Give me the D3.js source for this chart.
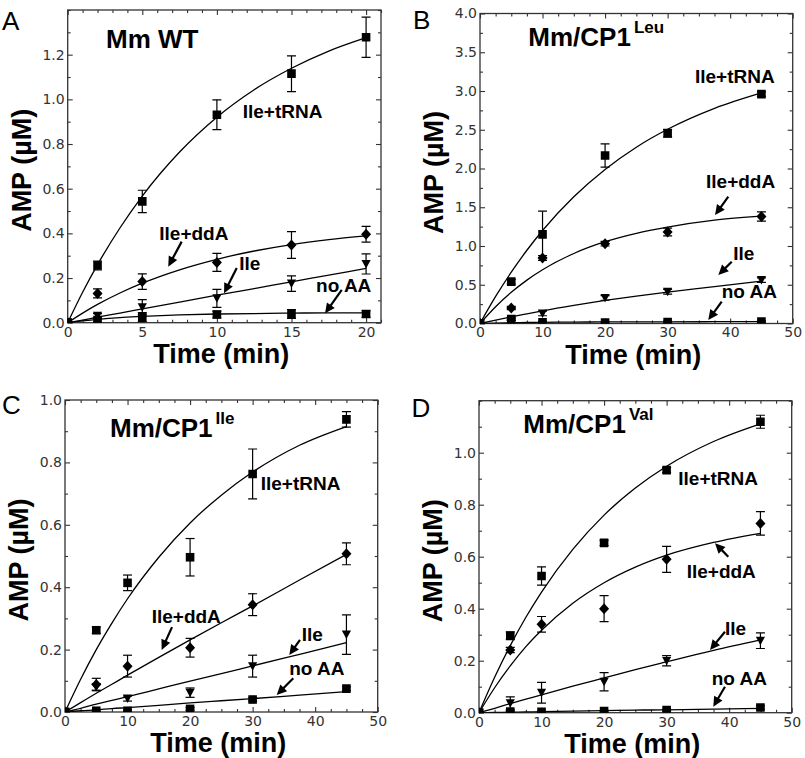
<!DOCTYPE html>
<html lang="en">
<head>
<meta charset="UTF-8">
<title>AMP formation time courses</title>
<script src="https://d3js.org/d3.v7.min.js"></script>
<style>
  body { margin: 0; background: #fff; }
  .tick text { font-family: "DejaVu Sans", sans-serif; font-size: 14px; fill: #333; }
  .bold { font-family: "Liberation Sans", Arial, sans-serif; font-weight: bold; fill: #000; }
  .letter { font-family: "Liberation Sans", Arial, sans-serif; font-size: 26px; fill: #000; }
</style>
</head>
<body>
<svg id="main" width="805" height="758"></svg>
<script>
// ---- data ----
const seriesNames = ["Ile+tRNA", "Ile+ddA", "Ile", "no AA"];
const timesWT = [0, 2, 5, 10, 15, 20];
const timesCP = [0, 5, 10, 20, 30, 45];
// knots of the fitted curves
const fitTimesWT = [0, 1, 2, 3.5, 5, 7.5, 10, 12.5, 15, 17.5, 20];
const fitTimesCP = [0, 2.5, 5, 7.5, 10, 15, 20, 25, 30, 37.5, 45];

// A: Mm WT
const wtTrna = [0, 0.256, 0.543, 0.931, 1.115, 1.278];
const wtTrnaErr = [0, 0.02, 0.05, 0.067, 0.08, 0.09];
const wtDda = [0, 0.131, 0.184, 0.27, 0.348, 0.396];
const wtDdaErr = [0, 0.02, 0.035, 0.04, 0.06, 0.035];
const wtIle = [0, 0.031, 0.069, 0.109, 0.175, 0.263];
const wtIleErr = [0, 0.01, 0.034, 0.04, 0.035, 0.045];
const wtNoAA = [0, 0.012, 0.025, 0.037, 0.039, 0.039];
const wtNoAAErr = [0, 0.008, 0.02, 0.015, 0.02, 0.015];
const wtTrnaFit = [0, 0.136, 0.26, 0.424, 0.567, 0.764, 0.92, 1.043, 1.139, 1.216, 1.276];
const wtDdaFit = [0, 0.043, 0.082, 0.133, 0.177, 0.237, 0.284, 0.321, 0.35, 0.372, 0.389];
const wtIleFit = [0, 0.012, 0.025, 0.043, 0.062, 0.092, 0.123, 0.153, 0.183, 0.213, 0.243];
const wtNoAAFit = [0, 0.008, 0.015, 0.023, 0.028, 0.035, 0.039, 0.041, 0.043, 0.044, 0.044];

// B: Mm/CP1 Leu
const leuTrna = [0, 0.54, 1.15, 2.167, 2.455, 2.96];
const leuTrnaErr = [0, 0.03, 0.3, 0.15, 0.05, 0.03];
const leuDda = [0, 0.2, 0.845, 1.03, 1.18, 1.38];
const leuDdaErr = [0, 0.02, 0.03, 0.03, 0.05, 0.06];
const leuIle = [0, 0.06, 0.13, 0.33, 0.41, 0.56];
const leuIleErr = [0, 0.02, 0.03, 0.03, 0.03, 0.03];
const leuNoAA = [0, 0.05, 0.017, 0.012, 0.02, 0.025];
const leuNoAAErr = [0, 0.01, 0.01, 0.01, 0.01, 0.01];
const leuTrnaFit = [0, 0.349, 0.662, 0.945, 1.2, 1.635, 1.988, 2.275, 2.506, 2.776, 2.975];
const leuDdaFit = [0, 0.217, 0.402, 0.56, 0.693, 0.903, 1.055, 1.164, 1.244, 1.333, 1.385];
const leuIleFit = [0, 0.044, 0.086, 0.125, 0.163, 0.233, 0.297, 0.354, 0.406, 0.475, 0.548];
const leuNoAAFit = [0, 0.006, 0.01, 0.013, 0.015, 0.018, 0.02, 0.021, 0.022, 0.023, 0.024];

// C: Mm/CP1 Ile
const ileTrna = [0, 0.262, 0.414, 0.496, 0.763, 0.938];
const ileTrnaErr = [0, 0.01, 0.025, 0.06, 0.08, 0.025];
const ileDda = [0, 0.088, 0.147, 0.206, 0.344, 0.507];
const ileDdaErr = [0, 0.02, 0.035, 0.03, 0.035, 0.035];
const ileIle = [0, 0.08, 0.043, 0.062, 0.147, 0.248];
const ileIleErr = [0, 0.01, 0.008, 0.015, 0.035, 0.063];
const ileNoAA = [0, 0.004, 0.004, 0.01, 0.04, 0.075];
const ileNoAAErr = [0, 0.003, 0.003, 0.004, 0.005, 0.006];
const ileTrnaFit = [0, 0.105, 0.2, 0.285, 0.363, 0.496, 0.606, 0.695, 0.769, 0.855, 0.915];
const ileDdaFit = [0, 0.03, 0.06, 0.089, 0.118, 0.175, 0.231, 0.286, 0.34, 0.423, 0.505];
const ileIleFit = [0, 0.012, 0.025, 0.037, 0.049, 0.074, 0.099, 0.123, 0.148, 0.185, 0.222];
const ileNoAAFit = [0, 0.004, 0.007, 0.011, 0.014, 0.021, 0.029, 0.036, 0.043, 0.054, 0.065];

// D: Mm/CP1 Val
const valTrna = [0, 0.296, 0.526, 0.653, 0.933, 1.119];
const valTrnaErr = [0, 0.015, 0.035, 0.01, 0.01, 0.025];
const valDda = [0, 0.241, 0.34, 0.4, 0.59, 0.728];
const valDdaErr = [0, 0.01, 0.03, 0.05, 0.05, 0.045];
const valIle = [0, 0.036, 0.077, 0.119, 0.2, 0.277];
const valIleErr = [0, 0.025, 0.04, 0.035, 0.02, 0.03];
const valNoAA = [0, 0.004, 0.003, 0.006, 0.01, 0.02];
const valNoAAErr = [0, 0.003, 0.003, 0.003, 0.004, 0.006];
const valTrnaFit = [0, 0.136, 0.258, 0.367, 0.464, 0.628, 0.76, 0.864, 0.948, 1.043, 1.111];
const valDdaFit = [0, 0.096, 0.18, 0.254, 0.317, 0.421, 0.5, 0.56, 0.606, 0.655, 0.69];
const valIleFit = [0, 0.017, 0.035, 0.052, 0.069, 0.102, 0.134, 0.166, 0.196, 0.24, 0.28];
const valNoAAFit = [0, 0.001, 0.002, 0.003, 0.004, 0.006, 0.008, 0.01, 0.011, 0.014, 0.017];

// tick labels
const xTicksWT = [0, 5, 10, 15, 20];
const xTicksCP = [0, 10, 20, 30, 40, 50];
const yTicksWT = [0, 0.2, 0.4, 0.6, 0.8, 1.0, 1.2];
const yTicksLeu = [0, 0.5, 1.0, 1.5, 2.0, 2.5, 3.0, 3.5, 4.0];
const yTicksIle = [0, 0.2, 0.4, 0.6, 0.8, 1.0];
const yTicksVal = [0, 0.2, 0.4, 0.6, 0.8, 1.0];

// ---- layout ----
const markerShapes = ["square", "diamond", "triangle", "square"];

const panels = [
  { letter: "A", lx: 2, ly: 30, left: 67.7, top: 10, width: 313.3, height: 312.7,
    xMax: 21, yMax: 1.4, xMinor: 1, yMinor: 0.1, xTicks: xTicksWT, yTicks: yTicksWT,
    title: "Mm WT", sup: "", tx: 38.3, ty: 38,
    times: timesWT, fitTimes: fitTimesWT,
    values: [wtTrna, wtDda, wtIle, wtNoAA], errors: [wtTrnaErr, wtDdaErr, wtIleErr, wtNoAAErr],
    fits: [wtTrnaFit, wtDdaFit, wtIleFit, wtNoAAFit],
    labels: [[11.73, 0.918], [6.14, 0.371], [11.5, 0.236], [16.65, 0.139]],
    arrows: [null, [7.64, 0.363, 6.74, 0.251], [11.33, 0.245, 10.48, 0.132], [18.37, 0.147, 17.25, 0.042]] },
  { letter: "B", lx: 413, ly: 28.5, left: 480, top: 13.5, width: 312.7, height: 310,
    xMax: 50, yMax: 4, xMinor: 2.5, yMinor: 0.25, xTicks: xTicksCP, yTicks: yTicksLeu,
    title: "Mm/CP1", sup: "Leu", tx: 48.3, ty: 32.5,
    times: timesCP, fitTimes: fitTimesCP,
    values: [leuTrna, leuDda, leuIle, leuNoAA], errors: [leuTrnaErr, leuDdaErr, leuIleErr, leuNoAAErr],
    fits: [leuTrnaFit, leuDdaFit, leuIleFit, leuNoAAFit],
    labels: [[34.38, 3.107], [36.14, 1.745], [40.5, 0.819], [38.65, 0.325]],
    arrows: [null, [39.7, 1.636, 37.58, 1.4], [40.25, 0.797, 38.11, 0.626], [38.65, 0.281, 36.5, 0.045]] },
  { letter: "C", lx: 2, ly: 413.5, left: 65, top: 400, width: 312.7, height: 312,
    xMax: 50, yMax: 1, xMinor: 2.5, yMinor: 0.1, xTicks: xTicksCP, yTicks: yTicksIle,
    title: "Mm/CP1", sup: "Ile", tx: 45, ty: 36.7,
    times: timesCP, fitTimes: fitTimesCP,
    values: [ileTrna, ileDda, ileIle, ileNoAA], errors: [ileTrnaErr, ileDdaErr, ileIleErr, ileNoAAErr],
    fits: [ileTrnaFit, ileDdaFit, ileIleFit, ileNoAAFit],
    labels: [[31.29, 0.7115], [13.86, 0.285], [37.85, 0.2285], [35.86, 0.119]],
    arrows: [null, [17.11, 0.272, 15.46, 0.199], [37.57, 0.231, 35.86, 0.183], [36.5, 0.108, 33.85, 0.0545]] },
  { letter: "D", lx: 411.5, ly: 416.5, left: 479, top: 400.7, width: 312.7, height: 312,
    xMax: 50, yMax: 1.2, xMinor: 2.5, yMinor: 0.1, xTicks: xTicksCP, yTicks: yTicksVal,
    title: "Mm/CP1", sup: "Val", tx: 44.3, ty: 32.6,
    times: timesCP, fitTimes: fitTimesCP,
    values: [valTrna, valDda, valIle, valNoAA], errors: [valTrnaErr, valDdaErr, valIleErr, valNoAAErr],
    fits: [valTrnaFit, valDdaFit, valIleFit, valNoAAFit],
    labels: [[31.87, 0.876], [33.21, 0.517], [39.33, 0.299], [37.21, 0.1065]],
    arrows: [null, [39.86, 0.6, 37.74, 0.652], [39.33, 0.3115, 36.94, 0.241], [39.33, 0.1, 37.46, 0.023]] }
];

function markerPath(shape) {
  if (shape === "diamond") return "M0,-5.5L5,0L0,5.5L-5,0Z";
  if (shape === "triangle") return "M-4.6,-4L4.6,-4L0,4.5Z";
  return "M-4.3,-4.3h8.6v8.6h-8.6Z";
}

const svg = d3.select("svg#main");
const defs = svg.append("defs");
const fmtX = d3.format("d");
const fmtY = d3.format(".1f");

function notMajor(majors) {
  return v => !majors.some(t => Math.abs(t - v) < 1e-9);
}

panels.forEach(p => {
  const x = d3.scaleLinear().domain([0, p.xMax]).range([0, p.width]);
  const y = d3.scaleLinear().domain([0, p.yMax]).range([p.height, 0]);
  const g = svg.append("g").attr("transform", "translate(" + p.left + "," + p.top + ")");

  defs.append("clipPath").attr("id", "clip" + p.letter)
    .append("rect").attr("width", p.width).attr("height", p.height);

  const xMinor = d3.range(0, p.xMax + 1e-9, p.xMinor).filter(notMajor(p.xTicks));
  const yMinor = d3.range(0, p.yMax + 1e-9, p.yMinor).filter(notMajor(p.yTicks));

  // axes: labelled bottom/left, mirrored ticks top/right, all ticks inward
  const axes = [
    [d3.axisBottom(x).tickValues(p.xTicks).tickFormat(fmtX).tickSize(-5).tickPadding(4), "translate(0," + p.height + ")"],
    [d3.axisBottom(x).tickValues(xMinor).tickFormat("").tickSize(-3), "translate(0," + p.height + ")"],
    [d3.axisTop(x).tickValues(p.xTicks).tickFormat("").tickSize(-5), null],
    [d3.axisTop(x).tickValues(xMinor).tickFormat("").tickSize(-3), null],
    [d3.axisLeft(y).tickValues(p.yTicks).tickFormat(fmtY).tickSize(-5).tickPadding(3), null],
    [d3.axisLeft(y).tickValues(yMinor).tickFormat("").tickSize(-3), null],
    [d3.axisRight(y).tickValues(p.yTicks).tickFormat("").tickSize(-5), "translate(" + p.width + ",0)"],
    [d3.axisRight(y).tickValues(yMinor).tickFormat("").tickSize(-3), "translate(" + p.width + ",0)"]
  ];
  axes.forEach(([ax, tr]) => {
    const a = g.append("g").call(ax.tickSizeOuter(0));
    if (tr) a.attr("transform", tr);
    a.select(".domain").remove();
    a.selectAll(".tick line").attr("stroke", "#333").attr("stroke-width", 1.1);
  });

  g.append("rect").attr("width", p.width).attr("height", p.height)
    .attr("fill", "none").attr("stroke", "#333").attr("stroke-width", 1.3);

  const plot = g.append("g").attr("clip-path", "url(#clip" + p.letter + ")");

  // fitted curves
  const line = d3.line().x(d => x(d[0])).y(d => y(d[1])).curve(d3.curveMonotoneX);
  p.fits.forEach(f => {
    plot.append("path").datum(p.fitTimes.map((t, i) => [t, f[i]]))
      .attr("d", line).attr("fill", "none").attr("stroke", "#000").attr("stroke-width", 1.3);
  });

  // error bars and markers
  p.values.forEach((vals, s) => {
    const pts = p.times.map((t, i) => ({ t: t, v: vals[i], e: p.errors[s][i] }));
    const eb = plot.selectAll(null).data(pts.filter(d => d.e > 0)).enter().append("g")
      .attr("stroke", "#000").attr("stroke-width", 1.2);
    eb.append("line").attr("x1", d => x(d.t)).attr("x2", d => x(d.t))
      .attr("y1", d => y(d.v - d.e)).attr("y2", d => y(d.v + d.e));
    eb.append("line").attr("x1", d => x(d.t) - 4.5).attr("x2", d => x(d.t) + 4.5)
      .attr("y1", d => y(d.v - d.e)).attr("y2", d => y(d.v - d.e));
    eb.append("line").attr("x1", d => x(d.t) - 4.5).attr("x2", d => x(d.t) + 4.5)
      .attr("y1", d => y(d.v + d.e)).attr("y2", d => y(d.v + d.e));

    plot.selectAll(null).data(pts).enter().append("path")
      .attr("d", markerPath(markerShapes[s]))
      .attr("transform", d => "translate(" + x(d.t) + "," + y(d.v) + ")")
      .attr("fill", "#000");
  });

  // series labels and arrows
  seriesNames.forEach((name, s) => {
    const lp = p.labels[s];
    g.append("text").attr("class", "bold").attr("font-size", 19)
      .attr("x", x(lp[0])).attr("y", y(lp[1])).text(name);
    const ar = p.arrows[s];
    if (!ar) return;
    const x0 = x(ar[0]), y0 = y(ar[1]), x1 = x(ar[2]), y1 = y(ar[3]);
    const len = Math.hypot(x1 - x0, y1 - y0);
    const ux = (x1 - x0) / len, uy = (y1 - y0) / len;
    const hl = 10, hw = 4.8;
    g.append("line").attr("x1", x0).attr("y1", y0)
      .attr("x2", x1 - ux * (hl - 2)).attr("y2", y1 - uy * (hl - 2))
      .attr("stroke", "#000").attr("stroke-width", 2.2);
    const bx = x1 - ux * hl, by = y1 - uy * hl;
    g.append("path")
      .attr("d", "M" + x1 + "," + y1 + "L" + (bx - uy * hw) + "," + (by + ux * hw) +
                 "L" + (bx + uy * hw) + "," + (by - ux * hw) + "Z")
      .attr("fill", "#000");
  });

  // title
  const title = g.append("text").attr("class", "bold").attr("font-size", 26)
    .attr("x", p.tx).attr("y", p.ty).text(p.title);
  if (p.sup) {
    title.append("tspan").attr("font-size", 17).attr("dx", 3).attr("dy", -13).text(p.sup);
  }

  // axis titles
  g.append("text").attr("class", "bold").attr("font-size", 27).attr("text-anchor", "middle")
    .attr("x", p.width / 2 - 3).attr("y", p.height + 40).text("Time (min)");
  g.append("text").attr("class", "bold").attr("font-size", 27).attr("text-anchor", "middle")
    .attr("transform", "translate(-37," + (p.height / 2 + 4) + ") rotate(-90)").text("AMP (µM)");

  // panel letter
  svg.append("text").attr("class", "letter").attr("x", p.lx).attr("y", p.ly).text(p.letter);
});
</script>
</body>
</html>
